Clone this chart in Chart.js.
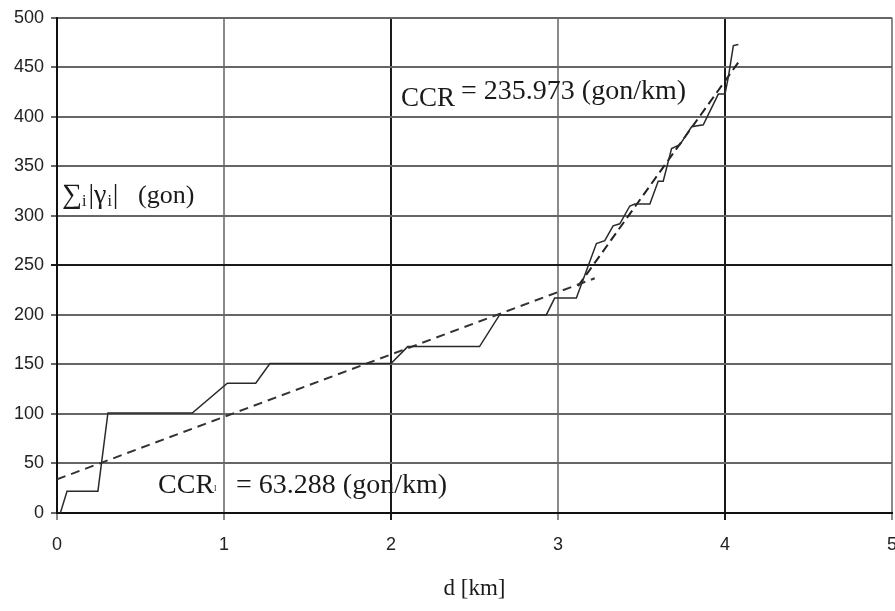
<!DOCTYPE html>
<html>
<head>
<meta charset="utf-8">
<script src="https://cdn.jsdelivr.net/npm/chart.js@4.4.1/dist/chart.umd.min.js"></script>
<style>
  html, body { margin: 0; padding: 0; background: #fff; }
  #wrap { width: 895px; height: 611px; }
</style>
</head>
<body>
<div id="wrap"><canvas id="grafico"></canvas></div>
<script>
// suma acumulada de |gamma| frente a la distancia
const distKm = [0.02, 0.06, 0.245, 0.305, 0.81, 1.02, 1.19, 1.275, 2.0, 2.1, 2.53, 2.65, 2.93, 2.98,
                3.11, 3.23, 3.28, 3.33, 3.37, 3.43, 3.46, 3.55, 3.6, 3.63, 3.68, 3.73, 3.8, 3.87,
                3.96, 4.0, 4.02, 4.05, 4.08];
const sumaGon = [0, 22, 22, 101, 101, 131, 131, 151, 151, 168, 168, 200, 200, 217,
                 217, 272, 275, 290, 292, 310, 312, 312, 335, 335, 368, 372, 390, 392,
                 423, 423, 440, 472, 473];

// rectas de ajuste (extremos)
const ajuste1Km = [0, 3.22];
const ajuste1Gon = [34, 237];
const ajuste2Km = [3.12, 4.08];
const ajuste2Gon = [229, 455];

const ticksY = [0, 50, 100, 150, 200, 250, 300, 350, 400, 450, 500];
const ticksX = [0, 1, 2, 3, 4, 5];

const puntos = (xs, ys) => xs.map((x, i) => ({ x: x, y: ys[i] }));

const SERIF = '"Liberation Serif", "Times New Roman", serif';

// textos dentro del grafico
const textos = {
    id: "textos",
    afterDatasetsDraw(chart) {
        const { ctx, scales } = chart;
        const px = v => scales.x.getPixelForValue(v);
        const py = v => scales.y.getPixelForValue(v);
        ctx.save();
        ctx.fillStyle = "#1a1a1a";
        ctx.textBaseline = "alphabetic";
        ctx.textAlign = "left";

        // CCR superior
        let x = px(2.06), y = py(411);
        ctx.font = "27px " + SERIF;
        ctx.fillText("CCR", x, y);
        x += ctx.measureText("CCR").width + 6;
        ctx.font = "28px " + SERIF;
        ctx.fillText("= 235.973 (gon/km)", x, y - 7);

        // CCR inferior
        x = px(0.605); y = py(20);
        ctx.font = "28px " + SERIF;
        ctx.fillText("CCR", x, y);
        x += ctx.measureText("CCR").width;
        ctx.font = "9px " + SERIF;
        ctx.fillText("l", x, y - 2);
        x += 22;
        ctx.font = "28px " + SERIF;
        ctx.fillText("= 63.288 (gon/km)", x, y);

        // etiqueta eje y
        const x0 = px(0.03);
        x = x0; y = py(313);
        ctx.font = "28px " + SERIF;
        ctx.fillText("\u2211", x, y);
        x += ctx.measureText("\u2211").width;
        ctx.font = "16px " + SERIF;
        ctx.fillText("i", x, y + 3);
        x += ctx.measureText("i").width + 2;
        ctx.font = "28px " + SERIF;
        ctx.fillText("|\u03b3", x, y);
        x += ctx.measureText("|\u03b3").width + 1;
        ctx.font = "16px " + SERIF;
        ctx.fillText("i", x, y + 3);
        x += ctx.measureText("i").width + 1;
        ctx.font = "28px " + SERIF;
        ctx.fillText("|", x, y);
        ctx.font = "26px " + SERIF;
        ctx.fillText("(gon)", x0 + 76, y);
        ctx.restore();
    }
};

const chart = new Chart(document.getElementById("grafico"), {
    type: "scatter",
    data: {
        datasets: [
            {
                label: "suma",
                data: puntos(distKm, sumaGon),
                showLine: true,
                borderColor: "#2a2a2a",
                borderWidth: 1.5,
                pointRadius: 0,
                tension: 0
            },
            {
                label: "ajuste 1",
                data: puntos(ajuste1Km, ajuste1Gon),
                showLine: true,
                borderColor: "#333",
                borderWidth: 2,
                borderDash: [9, 6],
                pointRadius: 0
            },
            {
                label: "ajuste 2",
                data: puntos(ajuste2Km, ajuste2Gon),
                showLine: true,
                borderColor: "#222",
                borderWidth: 2,
                borderDash: [9, 5],
                pointRadius: 0
            }
        ]
    },
    options: {
        responsive: true,
        maintainAspectRatio: false,
        animation: false,
        layout: { padding: { left: 0, right: 3, top: 16, bottom: 0 } },
        plugins: {
            legend: { display: false },
            tooltip: { enabled: false }
        },
        scales: {
            x: {
                type: "linear",
                min: 0,
                max: 5,
                afterBuildTicks: s => { s.ticks = ticksX.map(v => ({ value: v })); },
                afterFit: s => { s.height = 98; s.paddingRight = 0; s.paddingLeft = 0; },
                ticks: {
                    padding: 14,
                    color: "#222",
                    font: { family: '"Liberation Sans", sans-serif', size: 18 }
                },
                grid: {
                    tickLength: 7,
                    lineWidth: 2,
                    color: c => (c.tick && (c.tick.value === 2 || c.tick.value === 4)) ? "#1a1a1a" : "#8a8a8a"
                },
                border: { color: "#111", width: 2 },
                title: {
                    display: true,
                    text: "d [km]",
                    color: "#1a1a1a",
                    font: { family: SERIF, size: 23 },
                    padding: { top: 0, bottom: 8 }
                }
            },
            y: {
                min: 0,
                max: 500,
                afterBuildTicks: s => { s.ticks = ticksY.map(v => ({ value: v })); },
                afterFit: s => { s.width = 57; },
                ticks: {
                    padding: 7,
                    color: "#222",
                    font: { family: '"Liberation Sans", sans-serif', size: 18 }
                },
                grid: {
                    tickLength: 6,
                    lineWidth: 2,
                    color: c => (c.tick && c.tick.value === 250) ? "#1a1a1a" : "#666"
                },
                border: { color: "#111", width: 2 }
            }
        }
    },
    plugins: [textos]
});
</script>
</body>
</html>
